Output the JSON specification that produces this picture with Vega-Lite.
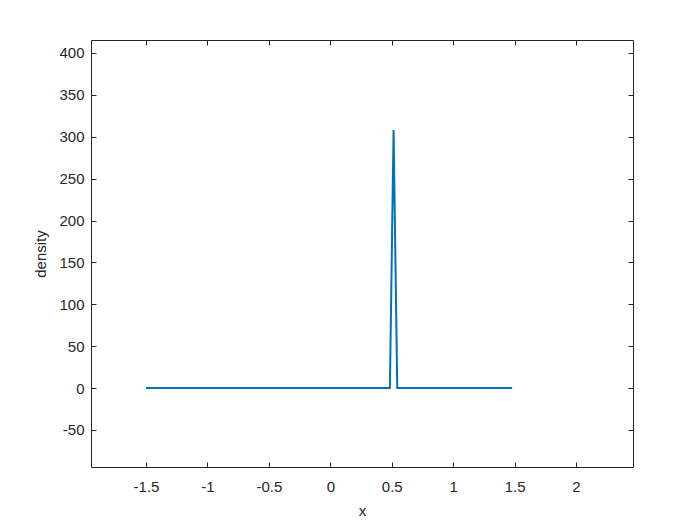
{
  "$schema": "https://vega.github.io/schema/vega-lite/v6.json",
  "autosize": "none",
  "padding": {"left": 91, "top": 40, "right": 67, "bottom": 60},
  "width": 542,
  "height": 427,
  "background": "white",
  "config": {
    "view": {"stroke": "#262626", "strokeWidth": 1},
    "font": "Liberation Sans",
    "axis": {
      "grid": false,
      "domain": false,
      "tickColor": "#262626",
      "tickSize": -5,
      "labelColor": "#262626",
      "labelFontSize": 15,
      "labelFont": "Liberation Sans",
      "titleFont": "Liberation Sans",
      "titleFontSize": 15,
      "titleFontWeight": "normal",
      "titleColor": "#262626"
    }
  },
  "data": {"values": [
    {"x": -1.5, "density": 0},
    {"x": 0.485, "density": 0},
    {"x": 0.515, "density": 308},
    {"x": 0.545, "density": 0},
    {"x": 1.48, "density": 0}
  ]},
  "resolve": {"axis": {"x": "independent", "y": "independent"}},
  "layer": [
    {
      "mark": {"type": "line", "color": "#0072BD", "strokeWidth": 2, "clip": true},
      "encoding": {
        "x": {"field": "x", "type": "quantitative",
          "scale": {"domain": [-1.948, 2.464], "nice": false, "zero": false},
          "axis": {"orient": "bottom", "values": [-1.5, -1, -0.5, 0, 0.5, 1, 1.5, 2], "labelExpr": "'' + datum.value", "title": "x", "labelPadding": 17, "titlePadding": 9}},
        "y": {"field": "density", "type": "quantitative",
          "scale": {"domain": [-94.2, 415.5], "nice": false, "zero": false},
          "axis": {"orient": "left", "values": [-50, 0, 50, 100, 150, 200, 250, 300, 350, 400], "labelExpr": "'' + datum.value", "title": "density", "labelPadding": 12, "titlePadding": 10}}
      }
    },
    {
      "mark": {"type": "line", "opacity": 0},
      "encoding": {
        "x": {"field": "x", "type": "quantitative",
          "axis": {"orient": "top", "values": [-1.5, -1, -0.5, 0, 0.5, 1, 1.5, 2], "labels": false, "title": null}},
        "y": {"field": "density", "type": "quantitative",
          "axis": {"orient": "right", "values": [-50, 0, 50, 100, 150, 200, 250, 300, 350, 400], "labels": false, "title": null}}
      }
    }
  ]
}
